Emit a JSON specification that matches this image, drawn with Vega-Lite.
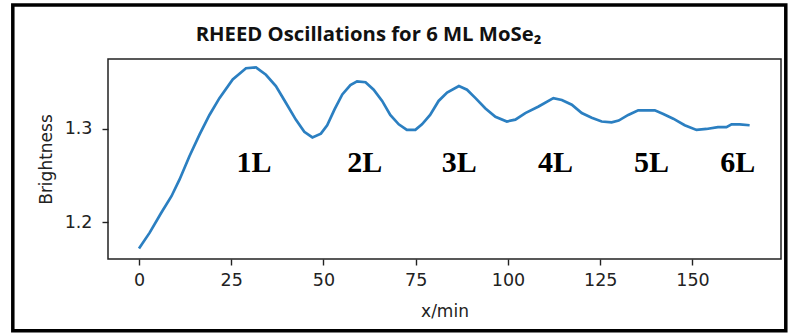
{
  "$schema": "https://vega.github.io/schema/vega-lite/v6.json",
  "width": 673,
  "height": 200,
  "autosize": {"type": "none"},
  "padding": {"left": 108, "top": 59, "right": 8, "bottom": 75},
  "background": "white",
  "title": {
    "text": "RHEED Oscillations for 6 ML MoSe₂",
    "font": "Open Sans",
    "fontWeight": "bold",
    "fontSize": 20.3,
    "color": "#111111",
    "anchor": "middle",
    "baseline": "alphabetic",
    "dx": -76,
    "offset": -58
  },
  "config": {
    "view": {"stroke": "#222222", "strokeWidth": 1.5},
    "axis": {
      "labelFont": "DejaVu Sans",
      "labelFontSize": 17.5,
      "labelColor": "#222222",
      "titleFont": "DejaVu Sans",
      "titleFontSize": 17,
      "titleFontWeight": "normal",
      "titleColor": "#222222",
      "tickColor": "#222222",
      "tickWidth": 1.4,
      "tickSize": 6,
      "domain": false,
      "grid": false
    }
  },
  "datasets": {
    "curve": [
      {"t": 0, "b": 1.172}, {"t": 2.9, "b": 1.189}, {"t": 6.0, "b": 1.210}, {"t": 8.8, "b": 1.228},
      {"t": 11.0, "b": 1.246}, {"t": 13.7, "b": 1.271}, {"t": 16.4, "b": 1.294}, {"t": 19.1, "b": 1.315},
      {"t": 21.8, "b": 1.333}, {"t": 25.4, "b": 1.353}, {"t": 29.0, "b": 1.365}, {"t": 31.7, "b": 1.366},
      {"t": 34.4, "b": 1.358}, {"t": 37.1, "b": 1.346}, {"t": 39.8, "b": 1.328}, {"t": 42.5, "b": 1.310},
      {"t": 44.8, "b": 1.297}, {"t": 47.0, "b": 1.291}, {"t": 49.3, "b": 1.295}, {"t": 51.0, "b": 1.304},
      {"t": 53.0, "b": 1.321}, {"t": 55.1, "b": 1.337}, {"t": 57.3, "b": 1.347}, {"t": 59.1, "b": 1.351},
      {"t": 61.4, "b": 1.350}, {"t": 63.6, "b": 1.342}, {"t": 65.9, "b": 1.330}, {"t": 68.1, "b": 1.315},
      {"t": 70.4, "b": 1.305}, {"t": 72.6, "b": 1.299}, {"t": 74.9, "b": 1.299}, {"t": 76.7, "b": 1.305},
      {"t": 78.9, "b": 1.315}, {"t": 81.2, "b": 1.330}, {"t": 83.5, "b": 1.339}, {"t": 86.7, "b": 1.346},
      {"t": 88.9, "b": 1.342}, {"t": 91.2, "b": 1.333}, {"t": 93.9, "b": 1.322}, {"t": 96.6, "b": 1.313},
      {"t": 99.7, "b": 1.308}, {"t": 102.0, "b": 1.310}, {"t": 104.7, "b": 1.317}, {"t": 108.3, "b": 1.324},
      {"t": 112.3, "b": 1.333}, {"t": 114.6, "b": 1.331}, {"t": 117.3, "b": 1.326}, {"t": 120.0, "b": 1.317},
      {"t": 122.7, "b": 1.312}, {"t": 125.4, "b": 1.308}, {"t": 128.1, "b": 1.307}, {"t": 130.0, "b": 1.309},
      {"t": 132.6, "b": 1.315}, {"t": 135.3, "b": 1.320}, {"t": 138.0, "b": 1.320}, {"t": 139.8, "b": 1.320},
      {"t": 142.1, "b": 1.316}, {"t": 144.8, "b": 1.311}, {"t": 147.9, "b": 1.304}, {"t": 151.1, "b": 1.299},
      {"t": 153.8, "b": 1.300}, {"t": 156.9, "b": 1.302}, {"t": 159.2, "b": 1.302}, {"t": 160.6, "b": 1.305},
      {"t": 162.8, "b": 1.305}, {"t": 165.5, "b": 1.304}
    ],
    "layers": [
      {"label": "1L", "t": 31.2, "b": 1.2543},
      {"label": "2L", "t": 61.2, "b": 1.2543},
      {"label": "3L", "t": 86.8, "b": 1.2543},
      {"label": "4L", "t": 112.9, "b": 1.2543},
      {"label": "5L", "t": 138.9, "b": 1.2543},
      {"label": "6L", "t": 162.3, "b": 1.2543}
    ]
  },
  "layer": [
    {
      "data": {"name": "curve"},
      "mark": {"type": "line", "color": "#2b7fc1", "strokeWidth": 2.7},
      "encoding": {
        "x": {
          "field": "t", "type": "quantitative", "title": "x/min",
          "scale": {"domain": [-8.4, 174.0], "nice": false, "zero": false},
          "axis": {"values": [0, 25, 50, 75, 100, 125, 150], "labelPadding": 6, "titlePadding": 15}
        },
        "y": {
          "field": "b", "type": "quantitative", "title": "Brightness",
          "scale": {"domain": [1.1608, 1.3749], "nice": false, "zero": false},
          "axis": {"values": [1.2, 1.3], "format": ".1f", "labelPadding": 10, "titlePadding": 9}
        }
      }
    },
    {
      "data": {"name": "layers"},
      "mark": {"type": "text", "font": "Liberation Serif", "fontWeight": "bold", "fontSize": 30, "color": "#000000", "baseline": "alphabetic", "align": "center"},
      "encoding": {
        "x": {"field": "t", "type": "quantitative"},
        "y": {"field": "b", "type": "quantitative"},
        "text": {"field": "label"}
      }
    },
    {
      "data": {"values": [{}]},
      "mark": {"type": "rect", "fill": "transparent", "stroke": "#000000", "strokeWidth": 3.5, "clip": false},
      "encoding": {
        "x": {"datum": -34.2, "type": "quantitative"},
        "x2": {"datum": 175.3},
        "y": {"datum": 1.4326, "type": "quantitative"},
        "y2": {"datum": 1.0840}
      }
    }
  ]
}
